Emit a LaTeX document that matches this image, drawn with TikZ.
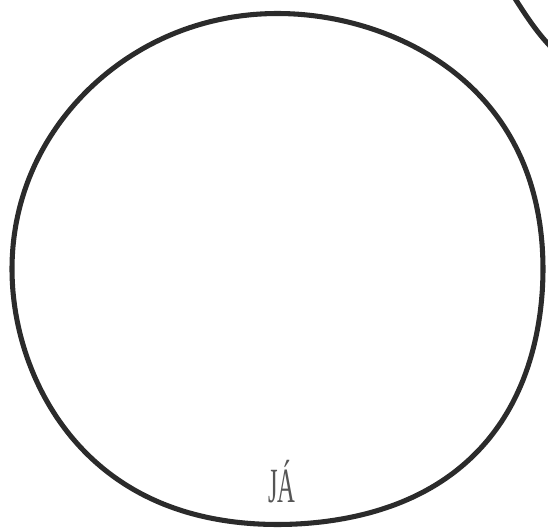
\documentclass[tikz,border=0pt]{standalone}
\usepackage{fontspec}
\setmainfont{Liberation Serif}
\usetikzlibrary{positioning}
\definecolor{inkgray}{HTML}{2B2B2B}
\definecolor{textgray}{HTML}{555555}

% outward bulge of the hand-drawn circle at angle #1
\newcommand{\bulge}[1]{((1-cos(4*#1))/2)*(5+5*cos(#1-45))}

\begin{document}
\begin{tikzpicture}[x=0.025cm, y=-0.025cm, line join=round,
  ring/.style={draw=inkgray, line width=3.6pt},
  label/.style={font=\fontsize{35}{35}\selectfont, text=textgray, inner sep=0pt, xscale=0.5}]

% Canvas
\useasboundingbox (0,0) rectangle (548,531);

% Big hand-drawn circle
\draw[ring] plot[domain=0:357.5, samples=144, smooth cycle, variable=\t]
  ({277.5+(265.5+\bulge{\t})*cos(\t)}, {269+(255.5+\bulge{\t})*sin(\t)});

% Edge of a neighbouring circle (top right)
\draw[ring] (514,-3) .. controls (525,14) and (535,30) .. (550,46);

% Label inside
\node[label, anchor=base] (ja) at (282,503) {JÁ};

\end{tikzpicture}
\end{document}
